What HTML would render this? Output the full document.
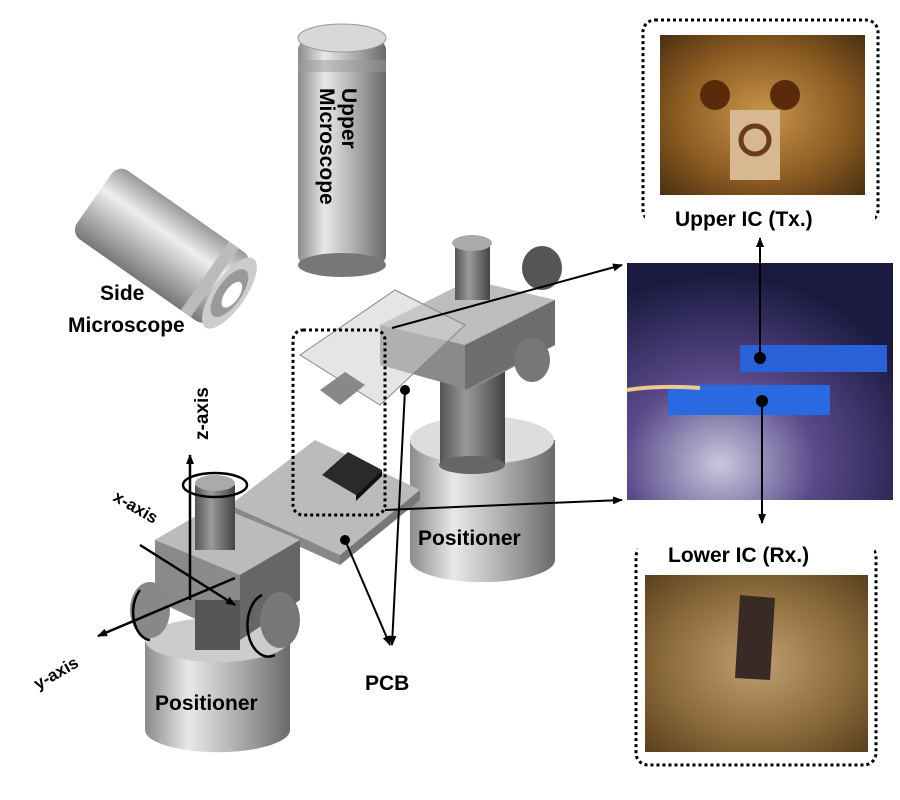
<!DOCTYPE html>
<html><head><meta charset="utf-8"><style>
html,body{margin:0;padding:0;background:#fff;width:900px;height:800px;overflow:hidden}
text{font-family:"Liberation Sans",Arial,sans-serif;font-weight:bold;fill:#000}
</style></head><body>
<svg width="900" height="800" viewBox="0 0 900 800" xmlns="http://www.w3.org/2000/svg">
<defs>
<linearGradient id="cyl" x1="0" x2="1" y1="0" y2="0">
<stop offset="0" stop-color="#8a8a8a"/><stop offset="0.3" stop-color="#e8e8e8"/><stop offset="0.6" stop-color="#b5b5b5"/><stop offset="1" stop-color="#6a6a6a"/></linearGradient>
<linearGradient id="cylD" x1="0" x2="1"><stop offset="0" stop-color="#555"/><stop offset="0.4" stop-color="#9a9a9a"/><stop offset="1" stop-color="#444"/></linearGradient>
<linearGradient id="side" x1="0" y1="0" x2="0" y2="1"><stop offset="0" stop-color="#999"/><stop offset="0.35" stop-color="#eee"/><stop offset="1" stop-color="#777"/></linearGradient>
<radialGradient id="ph1" cx="0.5" cy="0.5" r="0.7"><stop offset="0" stop-color="#c8964a"/><stop offset="0.6" stop-color="#8a5a22"/><stop offset="1" stop-color="#4a3010"/></radialGradient>
<radialGradient id="ph2" cx="0.35" cy="0.85" r="0.8"><stop offset="0" stop-color="#c8c8dc"/><stop offset="0.45" stop-color="#5a4a8a"/><stop offset="1" stop-color="#1a1a40"/></radialGradient>
<radialGradient id="ph3" cx="0.5" cy="0.5" r="0.7"><stop offset="0" stop-color="#c0a070"/><stop offset="0.6" stop-color="#8a6a3a"/><stop offset="1" stop-color="#5a4020"/></radialGradient>
<marker id="ah" markerWidth="10" markerHeight="10" refX="9" refY="5" orient="auto" markerUnits="userSpaceOnUse"><path d="M0,1 L10,5 L0,9 z" fill="#000"/></marker>
</defs>

<!-- Upper microscope -->
<rect x="298" y="40" width="88" height="225" rx="10" fill="url(#cyl)"/>
<ellipse cx="342" cy="38" rx="44" ry="14" fill="#d8d8d8" stroke="#999"/>
<rect x="298" y="60" width="88" height="12" fill="#999" opacity="0.5"/>
<ellipse cx="342" cy="265" rx="44" ry="12" fill="#777"/>
<text transform="translate(342,88) rotate(90)" font-size="21">Upper</text>
<text transform="translate(320,88) rotate(90)" font-size="21">Microscope</text>

<!-- Side microscope -->
<g transform="translate(168,250) rotate(35)">
<rect x="-90" y="-42" width="165" height="84" rx="12" fill="url(#side)"/>
<rect x="45" y="-42" width="12" height="84" fill="#bbb"/>
<ellipse cx="75" cy="0" rx="16" ry="42" fill="#ccc"/>
<ellipse cx="75" cy="0" rx="12" ry="28" fill="#999"/>
<ellipse cx="78" cy="0" rx="7" ry="15" fill="#fff"/>
</g>
<text x="100" y="300" font-size="21">Side</text>
<text x="68" y="332" font-size="21">Microscope</text>

<!-- Right positioner -->
<path d="M410,440 L410,560 A72,22 0 0 0 555,560 L555,440 Z" fill="url(#cyl)"/>
<ellipse cx="482" cy="440" rx="72" ry="24" fill="#ddd"/>
<rect x="440" y="330" width="65" height="135" fill="url(#cylD)"/>
<ellipse cx="472" cy="465" rx="33" ry="9" fill="#666"/>
<path d="M380,325 L470,280 L555,300 L555,345 L470,390 L380,365 Z" fill="#8a8a8a"/>
<path d="M380,325 L470,280 L555,300 L465,345 Z" fill="#bdbdbd"/>
<path d="M465,345 L555,300 L555,345 L465,390 Z" fill="#6e6e6e"/>
<rect x="455" y="245" width="35" height="55" fill="url(#cylD)"/>
<ellipse cx="472" cy="243" rx="20" ry="8" fill="#aaa"/>
<ellipse cx="532" cy="360" rx="18" ry="22" fill="#777"/>
<ellipse cx="542" cy="268" rx="20" ry="22" fill="#555"/>
<path d="M300,355 L395,290 L465,325 L380,405 Z" fill="#cfcfcf" fill-opacity="0.55" stroke="#888"/>
<path d="M320,390 L345,372 L365,385 L340,405 Z" fill="#888"/>
<text x="418" y="545" font-size="21">Positioner</text>

<!-- PCB -->
<path d="M230,505 L315,440 L420,490 L340,555 Z" fill="#bbb"/>
<path d="M230,505 L340,555 L340,565 L230,515 Z" fill="#888"/>
<path d="M340,555 L420,490 L420,500 L340,565 Z" fill="#777"/>
<path d="M322,475 L348,452 L382,470 L356,495 Z" fill="#2a2a2a"/>
<path d="M356,495 L382,470 L382,476 L356,501 Z" fill="#111"/>
<rect x="293" y="330" width="92" height="185" rx="10" fill="none" stroke="#000" stroke-width="3" stroke-dasharray="3,3"/>

<!-- Left positioner -->
<path d="M145,640 L145,730 A72,22 0 0 0 290,730 L290,640 Z" fill="url(#cyl)"/>
<ellipse cx="217" cy="640" rx="72" ry="22" fill="#ccc"/>
<path d="M155,540 L215,505 L300,540 L300,600 L240,640 L155,600 Z" fill="#8a8a8a"/>
<path d="M155,540 L215,505 L300,540 L240,575 Z" fill="#bbb"/>
<path d="M240,575 L300,540 L300,600 L240,640 Z" fill="#666"/>
<rect x="195" y="485" width="40" height="65" fill="url(#cylD)"/>
<ellipse cx="215" cy="483" rx="20" ry="8" fill="#aaa"/>
<rect x="195" y="600" width="45" height="50" fill="#555"/>
<ellipse cx="150" cy="610" rx="20" ry="28" fill="#888"/>
<ellipse cx="280" cy="620" rx="20" ry="28" fill="#777"/>
<text x="155" y="710" font-size="21">Positioner</text>

<!-- axes -->
<g stroke="#000" stroke-width="2.5" fill="none">
<line x1="190" y1="600" x2="190" y2="455" marker-end="url(#ah)"/>
<line x1="140" y1="545" x2="235" y2="605" marker-end="url(#ah)"/>
<line x1="235" y1="578" x2="98" y2="636" marker-end="url(#ah)"/>
<ellipse cx="215" cy="485" rx="32" ry="12"/>
<path d="M140,590 A18,28 0 0 0 150,640"/>
<path d="M262,595 A20,30 0 0 0 275,655"/>
</g>
<text transform="translate(208,440) rotate(-90)" font-size="19">z-axis</text>
<text transform="translate(112,500) rotate(30)" font-size="17">x-axis</text>
<text transform="translate(38,690) rotate(-30)" font-size="17">y-axis</text>

<!-- connectors -->
<g stroke="#000" stroke-width="2" fill="none">
<line x1="392" y1="328" x2="622" y2="265" marker-end="url(#ah)"/>
<line x1="385" y1="510" x2="622" y2="500" marker-end="url(#ah)"/>
<line x1="405" y1="390" x2="392" y2="645" marker-end="url(#ah)"/>
<line x1="345" y1="540" x2="390" y2="645" marker-end="url(#ah)"/>
</g>
<circle cx="405" cy="390" r="5"/><circle cx="345" cy="540" r="5"/>
<text x="365" y="690" font-size="21">PCB</text>

<!-- Photos -->
<rect x="643" y="20" width="235" height="202" rx="12" fill="none" stroke="#000" stroke-width="3" stroke-dasharray="3,3"/>
<rect x="660" y="35" width="205" height="160" fill="url(#ph1)"/>
<rect x="730" y="110" width="50" height="70" fill="#d8b890"/>
<circle cx="755" cy="140" r="14" fill="none" stroke="#6a3a1a" stroke-width="5"/>
<circle cx="715" cy="95" r="15" fill="#5a2a0a"/><circle cx="785" cy="95" r="15" fill="#5a2a0a"/>
<rect x="645" y="205" width="230" height="28" fill="#fff"/>
<text x="675" y="226" font-size="21">Upper IC (Tx.)</text>

<rect x="627" y="263" width="266" height="237" fill="url(#ph2)"/>
<rect x="740" y="345" width="147" height="27" fill="#2a60d8"/>
<rect x="668" y="385" width="162" height="30" fill="#2a6ae0"/>
<path d="M627,390 Q660,385 700,388" stroke="#f0c890" stroke-width="4" fill="none"/>
<g stroke="#000" stroke-width="2">
<line x1="760" y1="358" x2="760" y2="238" marker-end="url(#ah)"/>
<line x1="762" y1="401" x2="762" y2="523" marker-end="url(#ah)"/>
</g>
<circle cx="760" cy="358" r="6"/><circle cx="762" cy="401" r="6"/>

<rect x="636" y="545" width="240" height="220" rx="12" fill="none" stroke="#000" stroke-width="3" stroke-dasharray="3,3"/>
<rect x="645" y="575" width="223" height="177" fill="url(#ph3)"/>
<path d="M740,595 L775,598 L770,680 L735,678 Z" fill="#3a2a25"/>
<rect x="638" y="535" width="236" height="32" fill="#fff"/>
<text x="668" y="562" font-size="21">Lower IC  (Rx.)</text>
</svg>
</body></html>
